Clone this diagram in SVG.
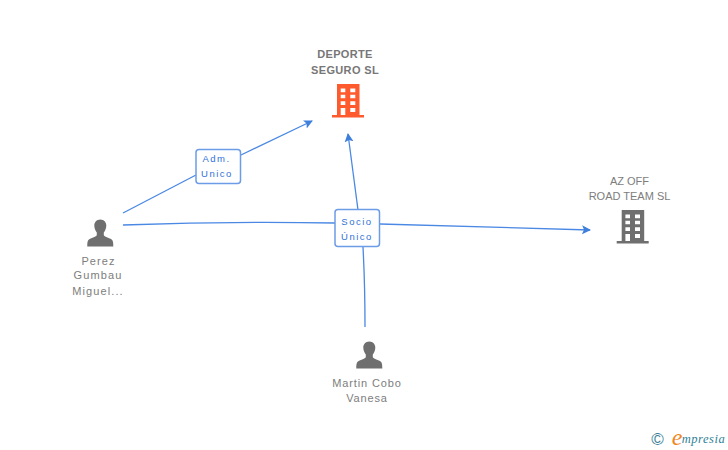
<svg xmlns="http://www.w3.org/2000/svg" width="728" height="450" viewBox="0 0 728 450">
<style>
text{font-family:"Liberation Sans",Arial,sans-serif;font-size:11px;text-anchor:middle}
.n{fill:#7d7d7d;letter-spacing:1.100px}
.m{fill:#7d7d7d;letter-spacing:.85px}
.t{fill:#7d7d7d}
.b{fill:#777;font-weight:bold;letter-spacing:.35px}
.l{fill:#2f72d8;font-size:9.500px;letter-spacing:1.500px}
.c{fill:none;stroke:#4a88e4;stroke-width:1.300}
.box{fill:#fff;stroke:#6c9ce6;stroke-width:1.500}
</style>
<defs>
<marker id="a" markerWidth="10" markerHeight="10" refX="8" refY="4.500" orient="auto" markerUnits="userSpaceOnUse"><path d="M0 0L9 4.500L0 9L2 4.500Z" fill="#3f7fdc"/></marker>
<path id="bld" fill-rule="evenodd" d="M337 84H359.500V115H364V117.500H332V115H337ZM340.700 88.500V92.300H345.300V88.500ZM350.300 88.500V92.300H355.300V88.500ZM340.700 94.700V98.300H345.300V94.700ZM350.300 94.700V98.300H355.300V94.700ZM340.700 101.300V105H345.300V101.300ZM350.300 101.300V105H355.300V101.300ZM340.700 108V115H345.300V108ZM350.300 108V112H355.300V108Z"/>
<path id="per" d="M100.300 219.500C104 219.500 106.300 222.300 106.300 225.500C106.300 228.500 105 231 103.800 232.500V235C103.800 236.500 108 237.500 111 239C112.800 240 113.300 241.500 113.300 246.500H87.300C87.300 241.500 87.800 240 89.600 239C92.600 237.500 96.800 236.500 96.800 235V232.500C95.600 231 94.300 228.500 94.300 225.500C94.300 222.300 96.600 219.500 100.300 219.500Z" fill="#6f6f6f"/>
</defs>
<g id="connectors">
<path class="c" d="M123 213L196 175"/>
<path class="c" d="M241 155L312 121" marker-end="url(#a)"/>
<path class="c" d="M123 225Q230 221 335 223"/>
<path class="c" d="M380 224Q480 227 590 230" marker-end="url(#a)"/>
<path class="c" d="M365 327Q365 285 363 247"/>
<path class="c" d="M358 210L348 134" marker-end="url(#a)"/>
</g>
<g id="edge-adm"><rect class="box" x="196" y="149.500" width="44.500" height="34" rx="3"/><text class="l" x="216.500" y="162">Adm.</text><text class="l" x="217" y="177">Unico</text></g>
<g id="edge-socio"><rect class="box" x="335" y="209.500" width="44.500" height="37" rx="3"/><text class="l" x="357" y="225">Socio</text><text class="l" x="357" y="240">Único</text></g>
<g id="node-deporte"><text class="b" x="345" y="58">DEPORTE</text><text class="b" x="345" y="74">SEGURO SL</text><use href="#bld" fill="#ff5a2e"/></g>
<g id="node-azoff"><text class="t" x="629.500" y="185">AZ OFF</text><text class="t" x="629.500" y="200">ROAD TEAM SL</text><use href="#bld" fill="#6f6f6f" x="284.700" y="126"/></g>
<g id="node-perez"><use href="#per"/><text class="n" x="98.500" y="265">Perez</text><text class="n" x="98" y="279">Gumbau</text><text class="n" x="98" y="295">Miguel...</text></g>
<g id="node-martin"><use href="#per" x="269" y="122"/><text class="m" x="367" y="387">Martin Cobo</text><text class="m" x="367" y="402">Vanesa</text></g>
<g id="copyright"><text x="657.500" y="445" style="font-size:17px;fill:#3d7f97">©</text><text x="677" y="445" style="font-family:'Liberation Serif',serif;font-style:italic;font-size:24px;fill:#f0861e">e</text><text x="703.500" y="443" style="font-family:'Liberation Serif',serif;font-style:italic;font-size:12.500px;fill:#2f7f96;letter-spacing:.5px">mpresia</text></g>
</svg>
